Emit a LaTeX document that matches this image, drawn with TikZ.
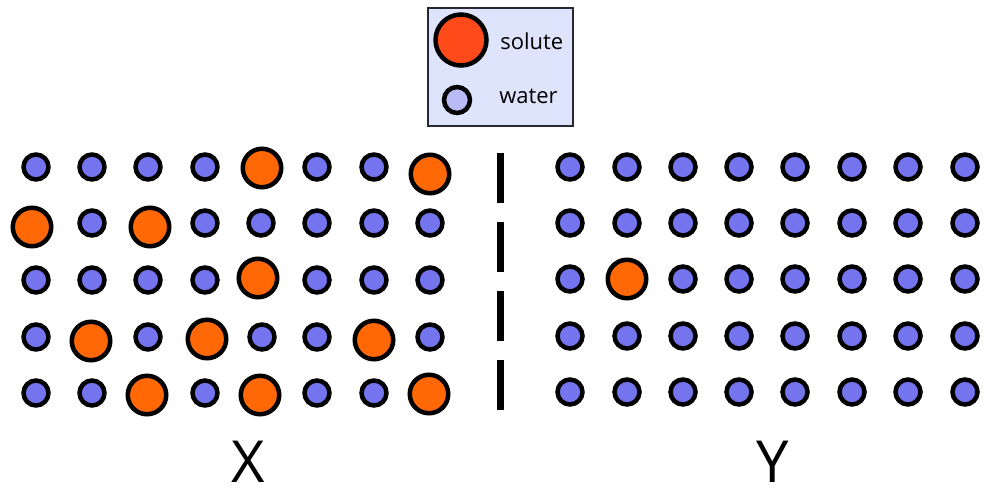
\documentclass[tikz,border=0pt]{standalone}
\usepackage{fontspec}
\setmainfont{Open Sans}
\usetikzlibrary{calc}
\definecolor{waterblue}{RGB}{116,116,238}
\definecolor{soluteorange}{RGB}{255,104,4}
\definecolor{keyred}{RGB}{255,74,26}
\definecolor{keywater}{RGB}{186,186,246}
\definecolor{keyfill}{RGB}{221,228,251}
\definecolor{keyedge}{RGB}{40,40,50}

\begin{document}
\begin{tikzpicture}[x=.02cm, y=-.02cm,
  water/.style={circle, draw=black, line width=.09cm, fill=waterblue, minimum size=.5cm, inner sep=0},
  solute/.style={circle, draw=black, line width=.09cm, fill=soluteorange, minimum size=.77cm, inner sep=0},
  keytext/.style={anchor=base west, font=\fontsize{12.5}{14}\selectfont, inner sep=0},
  side/.style={anchor=base, font=\fontsize{33}{38}\selectfont, inner sep=0}]
\useasboundingbox (0,0) rectangle (1000,497);
\node[draw=keyedge, fill=keyfill, line width=.03cm, minimum width=2.9cm, minimum height=2.36cm, inner sep=0] (key) at (500.5,67) {};
\node[solute, fill=keyred, minimum size=1.02cm] (keysolute) at (461,40) {};
\node[water, fill=keywater, minimum size=.52cm] (keywater) at (457,100) {};
\node[keytext] (keysolutetxt) at (500,49) {solute};
\node[keytext] (keywatertxt) at (499,103) {water};
\foreach \y/\xs in {167/{36,92,148,205,317,374}, 223/{92,205,261,317,374,430}, 280/{36,92,148,205,317,374,430}, 337/{36,148,262,317,430}, 393/{36,92,205,317,374}} {
  \foreach \x in \xs {
    \node[water] (xw-\x-\y) at (\x,\y) {};
  }
}
\foreach \x/\y [count=\i] in {262/168, 430/174, 32/227, 150/227, 258/278, 91/341, 207/339, 374/340, 147/395, 260/395, 429/394} {
  \node[solute] (xs-\i) at (\x,\y) {};
}
\foreach \y/\xs in {167/{570,627,683,739,795,852,908,965}, 223/{570,627,683,739,795,852,908,965}, 279/{570,683,739,795,852,908,965}, 336/{570,627,683,739,795,852,908,965}, 392/{570,627,683,739,795,852,908,965}} {
  \foreach \x in \xs {
    \node[water] (yw-\x-\y) at (\x,\y) {};
  }
}
\node[solute] (ys-1) at (627,279) {};
\coordinate (memtop) at (500,153);
\coordinate (membot) at (500,410);
\draw[line width=.14cm, dash pattern=on 1cm off .38cm] (memtop) -- (membot);
\node[side] (labx) at (248,482) {X};
\node[side] (laby) at (773,482) {Y};
\end{tikzpicture}
\end{document}
